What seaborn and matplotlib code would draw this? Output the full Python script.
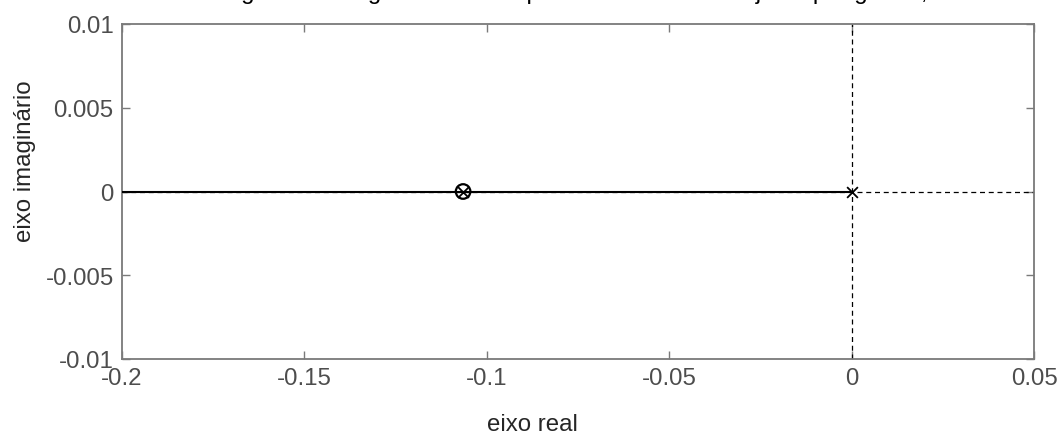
import matplotlib
matplotlib.use("Agg")
import matplotlib.pyplot as plt
import seaborn as sns
import pandas as pd

# ---- data ----
locus_re = [-0.2, -0.1065, 0.0]
locus_im = [0.0, 0.0, 0.0]
zero_re = [-0.1065]
zero_im = [0.0]
pole_re = [0.0, -0.1065]
pole_im = [0.0, 0.0]
x_ticks = [-0.2, -0.15, -0.1, -0.05, 0.0, 0.05]
x_tick_labels = ["-0.2", "-0.15", "-0.1", "-0.05", "0", "0.05"]
y_ticks = [-0.01, -0.005, 0.0, 0.005, 0.01]
y_tick_labels = ["-0.01", "-0.005", "0", "0.005", "0.01"]
title_text = "Diagrama do lugar das raízes para o sistema com ajuste por ganho, K"
x_label = "eixo real"
y_label = "eixo imaginário"

sns.set_style("white")
plt.rcParams["font.family"] = ["Liberation Sans", "DejaVu Sans"]

fig = plt.figure(figsize=(10.63, 4.39), dpi=100)
ax = fig.add_axes([122 / 1063, 1 - 360 / 439, (1034 - 122) / 1063, (360 - 25) / 439])

# dashed axes lines
ax.axhline(0, color="black", lw=0.9, ls=(0, (4, 3)), zorder=1)
ax.axvline(0, color="black", lw=0.9, ls=(0, (4, 3)), zorder=1)

locus = pd.DataFrame({"re": locus_re, "im": locus_im})
sns.lineplot(data=locus, x="re", y="im", color="black", lw=1.5, ax=ax,
             estimator=None, sort=False, zorder=3)

zeros = pd.DataFrame({"re": zero_re, "im": zero_im})
sns.scatterplot(data=zeros, x="re", y="im", marker="o", s=110,
                facecolor="none", edgecolor="black", linewidth=1.6, ax=ax, zorder=4)
poles = pd.DataFrame({"re": pole_re, "im": pole_im})
sns.scatterplot(data=poles, x="re", y="im", marker="x", s=60,
                color="black", linewidth=1.3, ax=ax, zorder=5)

ax.set_xlim(-0.2, 0.05)
ax.set_ylim(-0.01, 0.01)
ax.set_xticks(x_ticks)
ax.set_xticklabels(x_tick_labels)
ax.set_yticks(y_ticks)
ax.set_yticklabels(y_tick_labels)

tick_col = "#4d4d4d"
for sp in ax.spines.values():
    sp.set_visible(True)
    sp.set_color("#7a7a7a")
    sp.set_linewidth(1.3)
ax.tick_params(direction="in", length=6, width=1, color="#7a7a7a",
               labelsize=17.3, labelcolor=tick_col, top=True, right=True,
               bottom=True, left=True, pad=6)

ax.set_xlabel(x_label, fontsize=17.3, color="#262626")
ax.set_ylabel(y_label, fontsize=17.3, color="#262626")
ax.xaxis.set_label_coords((532 - 122) / 912, (360 - 425) / 335)
ax.xaxis.label.set_va("center")
ax.yaxis.set_label_coords((25 - 122) / 912, (360 - 161) / 335)
ax.yaxis.label.set_va("center")

# title, mostly cropped above the figure edge
fig.text((122 + 1034) / 2 / 1063, 1 + 1.5 / 439, title_text, ha="center",
         va="baseline", fontsize=17.3, color="black")

fig.savefig("out.png", dpi=100)
